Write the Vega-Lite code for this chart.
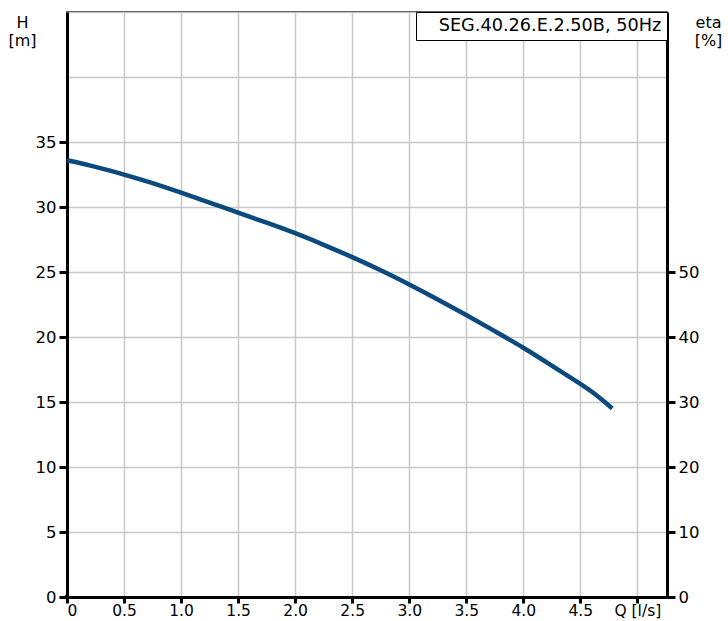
{
  "$schema": "https://vega.github.io/schema/vega-lite/v6.json",
  "width": 600,
  "height": 585,
  "autosize": "none",
  "padding": {"left": 67, "top": 12, "right": 61, "bottom": 24},
  "background": "white",
  "config": {
    "view": {"stroke": "black", "strokeWidth": 1.5},
    "font": "DejaVu Sans",
    "axis": {
      "domainColor": "black",
      "domainWidth": 3,
      "tickColor": "black",
      "tickWidth": 3,
      "tickSize": 8,
      "labelColor": "black",
      "labelFont": "DejaVu Sans",
      "labelFontSize": 16.5,
      "labelPadding": 3,
      "gridColor": "#c8c8c8",
      "gridWidth": 1.5,
      "titleFont": "DejaVu Sans",
      "titleFontSize": 16,
      "titleFontWeight": "normal",
      "titleColor": "black"
    }
  },
  "datasets": {
    "curve": [
      {"Q": 0, "H": 33.6, "name": "SEG.40.26.E.2.50B, 50Hz"},
      {"Q": 0.25, "H": 33.1, "name": "SEG.40.26.E.2.50B, 50Hz"},
      {"Q": 0.5, "H": 32.5, "name": "SEG.40.26.E.2.50B, 50Hz"},
      {"Q": 0.75, "H": 31.85, "name": "SEG.40.26.E.2.50B, 50Hz"},
      {"Q": 1.0, "H": 31.1, "name": "SEG.40.26.E.2.50B, 50Hz"},
      {"Q": 1.25, "H": 30.35, "name": "SEG.40.26.E.2.50B, 50Hz"},
      {"Q": 1.5, "H": 29.55, "name": "SEG.40.26.E.2.50B, 50Hz"},
      {"Q": 1.75, "H": 28.8, "name": "SEG.40.26.E.2.50B, 50Hz"},
      {"Q": 2.0, "H": 28.0, "name": "SEG.40.26.E.2.50B, 50Hz"},
      {"Q": 2.25, "H": 27.1, "name": "SEG.40.26.E.2.50B, 50Hz"},
      {"Q": 2.5, "H": 26.15, "name": "SEG.40.26.E.2.50B, 50Hz"},
      {"Q": 2.75, "H": 25.15, "name": "SEG.40.26.E.2.50B, 50Hz"},
      {"Q": 3.0, "H": 24.05, "name": "SEG.40.26.E.2.50B, 50Hz"},
      {"Q": 3.25, "H": 22.9, "name": "SEG.40.26.E.2.50B, 50Hz"},
      {"Q": 3.5, "H": 21.7, "name": "SEG.40.26.E.2.50B, 50Hz"},
      {"Q": 3.75, "H": 20.45, "name": "SEG.40.26.E.2.50B, 50Hz"},
      {"Q": 4.0, "H": 19.2, "name": "SEG.40.26.E.2.50B, 50Hz"},
      {"Q": 4.25, "H": 17.8, "name": "SEG.40.26.E.2.50B, 50Hz"},
      {"Q": 4.5, "H": 16.4, "name": "SEG.40.26.E.2.50B, 50Hz"},
      {"Q": 4.65, "H": 15.5, "name": "SEG.40.26.E.2.50B, 50Hz"},
      {"Q": 4.78, "H": 14.5, "name": "SEG.40.26.E.2.50B, 50Hz"}
    ],
    "eta": [
      {"Q": 0, "eta": 0}
    ]
  },
  "layer": [
    {
      "data": {"name": "curve"},
      "mark": {"type": "line", "strokeWidth": 4.5, "interpolate": "basis"},
      "encoding": {
        "x": {
          "field": "Q",
          "type": "quantitative",
          "scale": {"domain": [0, 5.26], "nice": false, "zero": false},
          "axis": {
            "title": null,
            "values": [0, 0.5, 1, 1.5, 2, 2.5, 3, 3.5, 4, 4.5, 5],
            "labelExpr": "datum.value == 0 ? '0' : (datum.value == 5 ? 'Q [l/s]' : format(datum.value, '.1f'))",
            "labelPadding": 0,
            "tickSize": 6,
            "labelFontSize": 15.5,
            "grid": true
          }
        },
        "y": {
          "field": "H",
          "type": "quantitative",
          "scale": {"domain": [0, 45], "nice": false},
          "axis": {
            "values": [0, 5, 10, 15, 20, 25, 30, 35, 40, 45],
            "labelExpr": "datum.value > 35 ? '' : datum.label",
            "tickOpacity": {"condition": {"test": "datum.value > 35", "value": 0}, "value": 1},
            "grid": true,
            "title": ["H", "[m]"],
            "titleAngle": 0,
            "titleAlign": "center",
            "titleBaseline": "top",
            "titleX": -45,
            "titleY": 2,
            "titleLineHeight": 18.5
          }
        },
        "color": {
          "field": "name",
          "type": "nominal",
          "scale": {"range": ["#0b4a7e"]},
          "legend": {
            "title": null,
            "orient": "top-right",
            "offset": 0,
            "padding": 5,
            "strokeColor": "black",
            "fillColor": "white",
            "cornerRadius": 0,
            "symbolSize": 0,
            "symbolStrokeWidth": 0,
            "symbolOpacity": 0,
            "labelOffset": 0,
            "labelFont": "DejaVu Sans",
            "labelFontSize": 17.7,
            "labelColor": "black",
            "labelLimit": 400
          }
        }
      }
    },
    {
      "data": {"name": "eta"},
      "mark": {"type": "point", "filled": true, "color": "black", "size": 25, "opacity": 1},
      "encoding": {
        "x": {"field": "Q", "type": "quantitative"},
        "y": {
          "field": "eta",
          "type": "quantitative",
          "scale": {"domain": [0, 90], "nice": false},
          "axis": {
            "orient": "right",
            "values": [0, 10, 20, 30, 40, 50],
            "grid": false,
            "title": ["eta", "[%]"],
            "titleAngle": 0,
            "titleAlign": "center",
            "titleBaseline": "top",
            "titleX": 41,
            "titleY": 2,
            "titleLineHeight": 18.5
          }
        }
      }
    }
  ],
  "resolve": {"scale": {"y": "independent"}}
}
